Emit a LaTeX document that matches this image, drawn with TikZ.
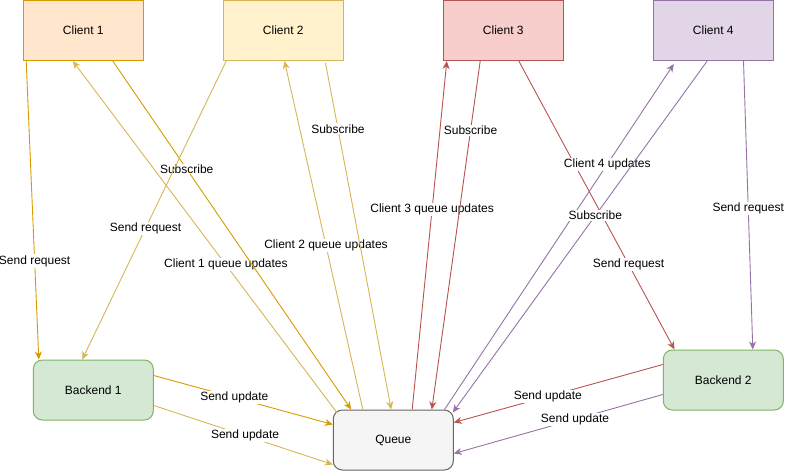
\documentclass[tikz,border=0pt]{standalone}
\usepackage{fontspec}
\setmainfont{Liberation Sans}
\usetikzlibrary{arrows.meta}

\definecolor{orangefill}{HTML}{FFE6CC}
\definecolor{orangeline}{HTML}{D79B00}
\definecolor{yellowfill}{HTML}{FFF2CC}
\definecolor{yellowline}{HTML}{D6B656}
\definecolor{redfill}{HTML}{F8CECC}
\definecolor{redline}{HTML}{B85450}
\definecolor{purplefill}{HTML}{E1D5E7}
\definecolor{purpleline}{HTML}{9673A6}
\definecolor{greenfill}{HTML}{D5E8D4}
\definecolor{greenline}{HTML}{82B366}
\definecolor{greyfill}{HTML}{F5F5F5}
\definecolor{greyline}{HTML}{666666}

\begin{document}
\begin{tikzpicture}[
x=1pt, y=-1pt,
box/.style={draw, line width=1pt, minimum width=120pt, minimum height=60pt, font=\fontsize{12}{14}\selectfont},
backend/.style={box, rounded corners=9pt, fill=greenfill, draw=greenline},
lbl/.style={fill=white, text=black, inner sep=1pt, font=\fontsize{12}{14}\selectfont},
arrow/.style={-{Stealth[length=8pt, width=7pt, inset=2.5pt]}, line width=0.9pt}
]
\useasboundingbox (0,0) rectangle (785,475);
\node[box, fill=orangefill, draw=orangeline] (c1) at (83.3,30.5) {Client 1};
\node[box, fill=yellowfill, draw=yellowline] (c2) at (283.3,30.5) {Client 2};
\node[box, fill=redfill, draw=redline] (c3) at (503.3,30.5) {Client 3};
\node[box, fill=purplefill, draw=purpleline] (c4) at (713.3,30.5) {Client 4};
\node[backend] (b1) at (93.3,390) {Backend 1};
\node[backend] (b2) at (723.3,380) {Backend 2};
\node[box, rounded corners=9pt, fill=greyfill, draw=greyline] (queue) at (393.3,440) {Queue};

% client 1
\draw[arrow, orangeline] ([xshift=3.4pt]c1.south west) -- node[lbl, pos=0.67] {Send request} ([xshift=6pt]b1.north west);
\draw[arrow, yellowline] ([xshift=4pt, yshift=-3pt]queue.north west) -- node[lbl, pos=0.42] {Client 1 queue updates} ([xshift=50pt]c1.south west);
\draw[arrow, orangeline] ([xshift=90pt]c1.south west) -- node[lbl, pos=0.31] {Subscribe} ([xshift=18.4pt]queue.north west);

% client 2
\draw[arrow, yellowline] ([xshift=3.4pt]c2.south west) -- node[lbl, pos=0.56] {Send request} ([xshift=49.4pt]b1.north west);
\draw[arrow, yellowline] ([xshift=30pt]queue.north west) -- node[lbl, pos=0.47] {Client 2 queue updates} ([xshift=61.7pt]c2.south west);
\draw[arrow, yellowline] ([xshift=102.7pt, yshift=-2pt]c2.south west) -- node[lbl, pos=0.19] {Subscribe} ([xshift=58.4pt]queue.north west);

% client 3
\draw[arrow, redline] ([xshift=79.4pt]queue.north west) -- node[lbl, pos=0.575] {Client 3 queue updates} ([xshift=4pt]c3.south west);
\draw[arrow, redline] ([xshift=37.4pt]c3.south west) -- node[lbl, pos=0.2] {Subscribe} ([xshift=99pt]queue.north west);
\draw[arrow, redline] ([xshift=76pt]c3.south west) -- node[lbl, pos=0.705] {Send request} ([xshift=11.7pt]b2.north west);

% client 4
\draw[arrow, purpleline] ([xshift=111.7pt]queue.north west) -- node[lbl, pos=0.71] {Client 4 updates} ([xshift=21pt, yshift=-3pt]c4.south west);
\draw[arrow, purpleline] ([xshift=54.4pt]c4.south west) -- node[lbl, pos=0.44] {Subscribe} ([xshift=-1pt, yshift=-3pt]queue.north east);
\draw[arrow, purpleline] ([xshift=90.7pt]c4.south west) -- node[lbl, pos=0.51] {Send request} ([xshift=90pt]b2.north west);

% backends
\draw[arrow, orangeline] ([yshift=-16pt]b1.north east) -- node[lbl, pos=0.45] {Send update} ([yshift=-15pt]queue.north west);
\draw[arrow, yellowline] ([yshift=-46pt]b1.north east) -- node[lbl, pos=0.51] {Send update} ([yshift=-55pt]queue.north west);
\draw[arrow, redline] ([yshift=-15pt]b2.north west) -- node[lbl, pos=0.55] {Send update} ([yshift=-13pt]queue.north east);
\draw[arrow, purpleline] ([yshift=-45pt]b2.north west) -- node[lbl, pos=0.42] {Send update} ([yshift=-44pt]queue.north east);
\end{tikzpicture}
\end{document}
